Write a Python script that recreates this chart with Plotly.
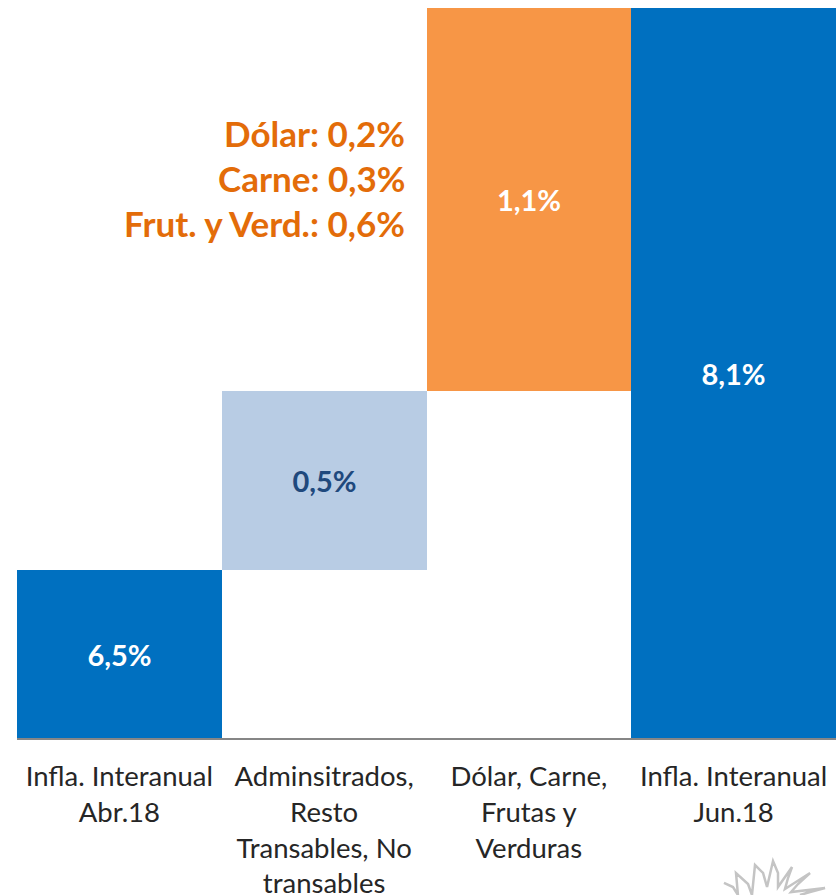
import plotly.graph_objects as go

categories = ["Infla. Interanual<br>Abr.18", "Adminsitrados,<br>Resto<br>Transables, No<br>transables",
              "Dólar, Carne,<br>Frutas y<br>Verduras", "Infla. Interanual<br>Jun.18"]
bases = [6.02, 6.5, 7.01, 6.02]
heights = [0.48, 0.51, 1.09, 2.08]
labels = ["6,5%", "0,5%", "1,1%", "8,1%"]
bar_colors = ["#0070C0", "#B8CCE4", "#F79646", "#0070C0"]
label_colors = ["white", "#1F497D", "white", "white"]
note_lines = ["Dólar: 0,2%", "Carne: 0,3%", "Frut. y Verd.: 0,6%"]
FONT = "Lato"

# Decorative emblem outline at the page's lower right corner (page pixels)
emblem = [(724, 883), (733, 887), (738, 895), (736, 873), (748, 884), (752, 895), (755, 865),
          (763, 873), (767, 887), (773, 861), (778, 873), (778, 887), (792, 867), (788, 878),
          (785, 889), (810, 873), (798, 884), (791, 892), (825, 888), (810, 892), (800, 895)]

def px(x):
    return (x - 17) / 819

def py(y):
    return (738 - y) / 730

path = "M " + " L ".join(f"{px(x):.4f},{py(y):.4f}" for x, y in emblem)

fig = go.Figure(go.Bar(
    x=categories, y=heights, base=bases, width=1,
    marker=dict(color=bar_colors, line_width=0),
    text=labels, textposition="inside", insidetextanchor="middle", textangle=0,
    textfont=dict(family=FONT, size=29, color=label_colors, weight="bold"),
    hoverinfo="skip",
))
fig.update_layout(
    width=840, height=895, autosize=False,
    margin=dict(l=17, r=4, t=8, b=157),
    paper_bgcolor="white", plot_bgcolor="white",
    showlegend=False, bargap=0,
    font=dict(family=FONT),
    xaxis=dict(showline=True, linecolor="#868686", linewidth=2, ticks="", showgrid=False,
               tickfont=dict(family=FONT, size=27.5, color="#262626"), tickangle=0,
               range=[-0.5, 3.5], ticklabelstandoff=13, automargin=False),
    yaxis=dict(range=[6.02, 8.1], visible=False, showgrid=False, automargin=False),
    shapes=[dict(type="path", path=path, xref="paper", yref="paper",
                 line=dict(color="#C4C4C4", width=2.5), layer="above")],
    annotations=[
        dict(text=t, xref="paper", yref="paper", x=px(407),
             y=py(yp), xanchor="right", yanchor="middle", showarrow=False,
             font=dict(family=FONT, size=35, color="#E36C09", weight="bold"))
        for t, yp in zip(note_lines, [132.5, 177.5, 222.5])
    ],
)
fig.write_html("out.html", config=dict(displayModeBar=False),
               post_script="document.body.style.margin='0';document.body.style.overflow='hidden';")
